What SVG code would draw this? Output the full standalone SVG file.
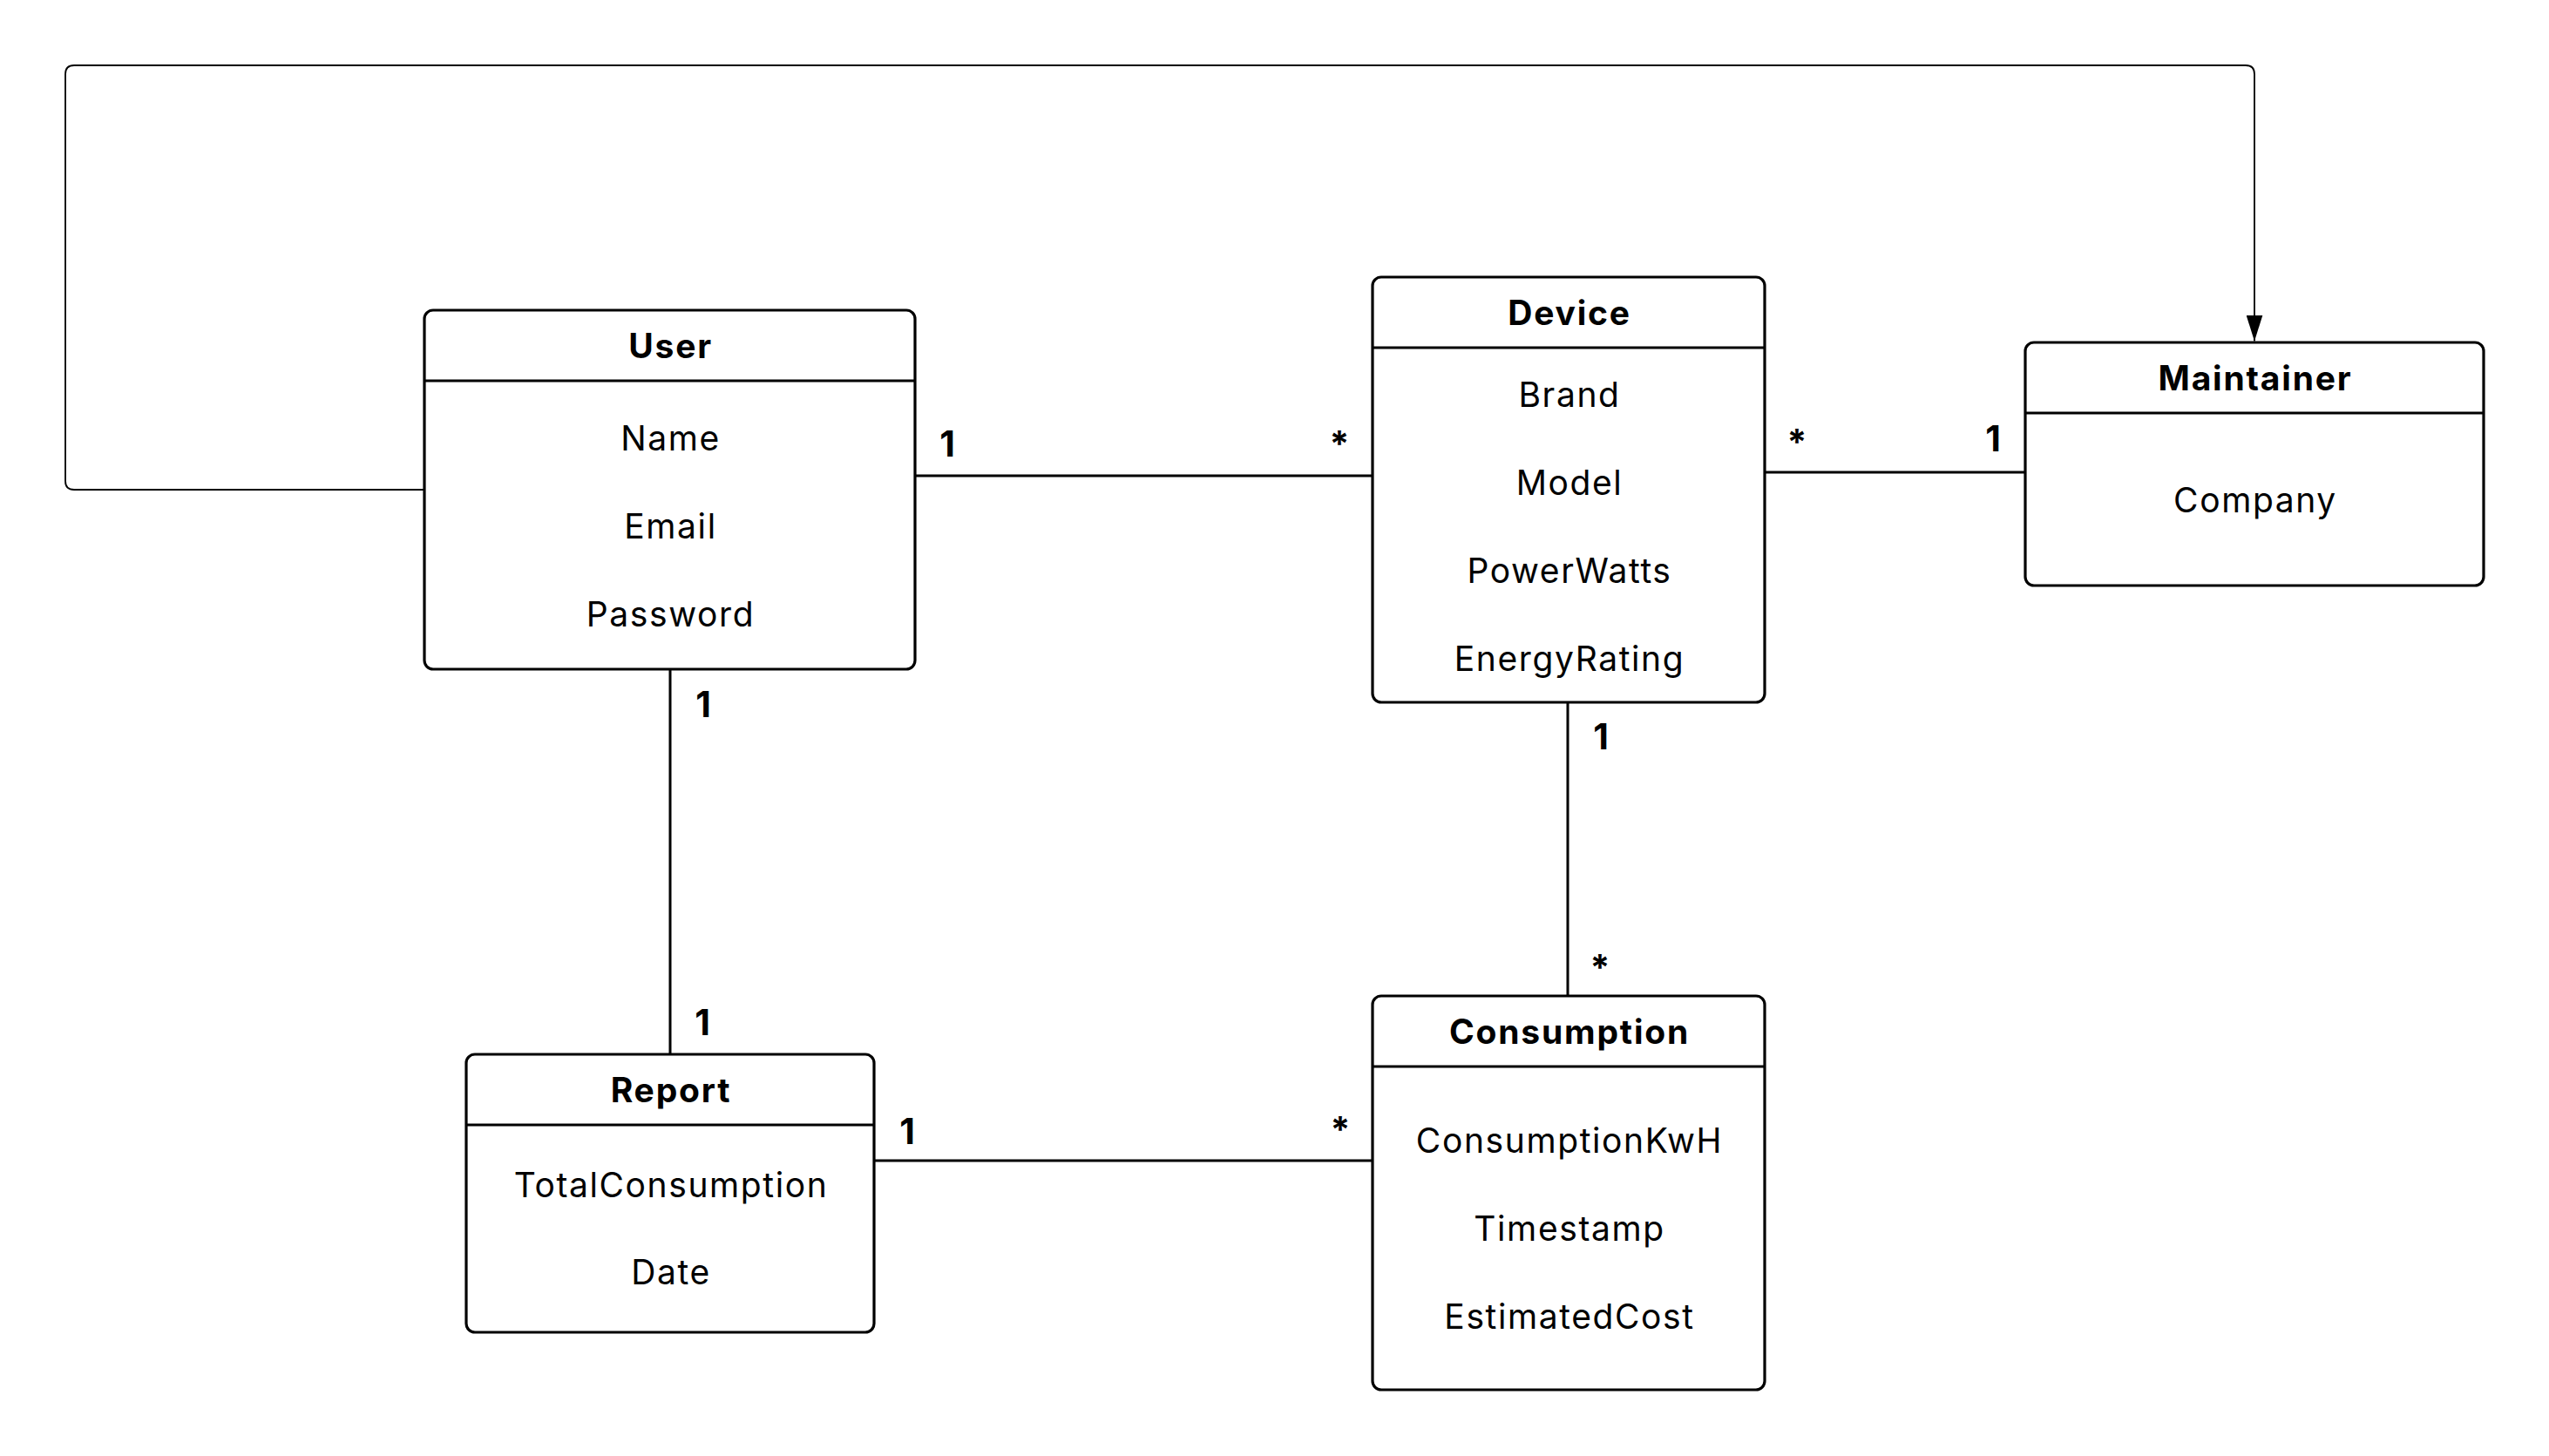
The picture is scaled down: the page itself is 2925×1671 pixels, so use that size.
<svg xmlns="http://www.w3.org/2000/svg" width="2925" height="1671" viewBox="0 0 2925 1671">
<style>
.box{fill:#fff;stroke:#000;stroke-width:3.2}
.div{stroke:#000;stroke-width:3.2}
.conn{fill:none;stroke:#000;stroke-width:3}
.loop{fill:none;stroke:#000;stroke-width:1.8}
text{font-family:Inter,"Liberation Sans",sans-serif;font-size:39px;fill:#000;text-anchor:middle;letter-spacing:1.6px}
.h{font-weight:700;letter-spacing:1.8px}
.m{font-weight:700;letter-spacing:0;font-size:41px}
</style>
<defs>
<marker id="arr" viewBox="0 0 30 19" refX="30" refY="9.5" markerWidth="30" markerHeight="19" markerUnits="userSpaceOnUse" orient="auto">
<path d="M0,0 L30,9.5 L0,19 z" fill="#000"/>
</marker>
</defs>
<rect width="2925" height="1671" fill="#fff"/>
<g id="connectors">
<path class="loop" d="M487 562 H85 Q75 562 75 552 V85 Q75 75 85 75 H2577 Q2587 75 2587 85 V391.5" marker-end="url(#arr)"/>
<path class="conn" d="M1050 546 H1575"/>
<path class="conn" d="M2025 542 H2324"/>
<path class="conn" d="M1799 806 V1143"/>
<path class="conn" d="M769 768 V1210"/>
<path class="conn" d="M1003 1332 H1575"/>
<text class="m" x="1087" y="524">1</text>
<text class="m" x="1537" y="524">*</text>
<text class="m" x="2062" y="522">*</text>
<text class="m" x="2287" y="518">1</text>
<text class="m" x="1837" y="860">1</text>
<text class="m" x="1836" y="1125">*</text>
<text class="m" x="807" y="823">1</text>
<text class="m" x="806" y="1188">1</text>
<text class="m" x="1041" y="1313">1</text>
<text class="m" x="1538" y="1311">*</text>
</g>
<g id="user">
<rect class="box" x="487" y="356" width="563" height="412" rx="10"/>
<line class="div" x1="487" y1="437" x2="1050" y2="437"/>
<text class="h" x="769.5" y="411">User</text>
<text x="769.5" y="517">Name</text>
<text x="769.5" y="618">Email</text>
<text x="769.5" y="719">Password</text>
</g>
<g id="device">
<rect class="box" x="1575" y="318" width="450" height="488" rx="10"/>
<line class="div" x1="1575" y1="399" x2="2025" y2="399"/>
<text class="h" x="1801" y="373">Device</text>
<text x="1801" y="467">Brand</text>
<text x="1801" y="568">Model</text>
<text x="1801" y="669">PowerWatts</text>
<text x="1801" y="770">EnergyRating</text>
</g>
<g id="maintainer">
<rect class="box" x="2324" y="393" width="526" height="279" rx="10"/>
<line class="div" x1="2324" y1="474" x2="2850" y2="474"/>
<text class="h" x="2588" y="448">Maintainer</text>
<text x="2588" y="588">Company</text>
</g>
<g id="consumption">
<rect class="box" x="1575" y="1143" width="450" height="452" rx="10"/>
<line class="div" x1="1575" y1="1224" x2="2025" y2="1224"/>
<text class="h" x="1801" y="1198">Consumption</text>
<text x="1801" y="1323">ConsumptionKwH</text>
<text x="1801" y="1424">Timestamp</text>
<text x="1801" y="1525">EstimatedCost</text>
</g>
<g id="report">
<rect class="box" x="535" y="1210" width="468" height="319" rx="10"/>
<line class="div" x1="535" y1="1291" x2="1003" y2="1291"/>
<text class="h" x="770" y="1265">Report</text>
<text x="770" y="1374">TotalConsumption</text>
<text x="770" y="1474">Date</text>
</g>
</svg>
